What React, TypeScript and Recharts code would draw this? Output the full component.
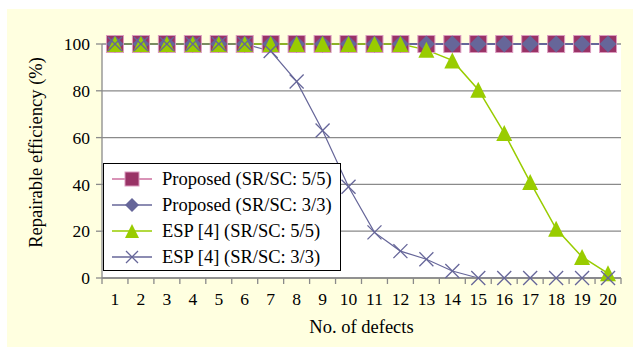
import { LineChart, Line, XAxis, YAxis, CartesianGrid, Label } from 'recharts';

const defects = [1, 2, 3, 4, 5, 6, 7, 8, 9, 10, 11, 12, 13, 14, 15, 16, 17, 18, 19, 20];
const proposed55 = [100, 100, 100, 100, 100, 100, 100, 100, 100, 100, 100, 100, 100, 100, 100, 100, 100, 100, 100, 100];
const proposed33 = [100, 100, 100, 100, 100, 100, 100, 100, 100, 100, 100, 100, 100, 100, 100, 100, 100, 100, 100, 100];
const esp55 = [100, 100, 100, 100, 100, 100, 100, 100, 100, 100, 100, 100, 97.5, 93, 80.5, 62, 41, 21, 9, 2];
const esp33 = [100, 100, 100, 100, 100, 100, 97, 84, 63, 39, 19.5, 11.5, 8, 3, 0, 0, 0, 0, 0, 0];
const yTicks = [0, 20, 40, 60, 80, 100];

const seriesNames = [
  'Proposed (SR/SC: 5/5)',
  'Proposed (SR/SC: 3/3)',
  'ESP [4] (SR/SC: 5/5)',
  'ESP [4] (SR/SC: 3/3)',
];

const data = defects.map((d, i) => ({
  defects: d,
  p55: proposed55[i],
  p33: proposed33[i],
  e55: esp55[i],
  e33: esp33[i],
}));

const FONT = 'Liberation Serif';
const W = 626;
const H = 338;
const MARGIN = { top: 35, right: 12, left: 0, bottom: 9 };
const Y_W = 95;
const X_H = 60;
const PLOT_W = W - MARGIN.left - MARGIN.right - Y_W;
const PLOT_H = H - MARGIN.top - MARGIN.bottom - X_H;
const BAND = PLOT_W / defects.length;
const GRID = '#8a8a8a';

const MAGENTA = '#993366';
const PINK = '#cc6f9f';
const BLUE = '#666699';
const GREEN = '#99cc00';

function Square({ cx, cy, s }: any) {
  return <rect x={cx - s / 2} y={cy - s / 2} width={s} height={s} fill={MAGENTA} stroke="#dc9cc0" strokeWidth={1} />;
}
function Diamond({ cx, cy, s }: any) {
  const h = s / 2;
  return <polygon points={`${cx},${cy - h} ${cx + h},${cy} ${cx},${cy + h} ${cx - h},${cy}`} fill={BLUE} />;
}
function Triangle({ cx, cy, s }: any) {
  const h = s / 2;
  return <polygon points={`${cx},${cy - h} ${cx + h},${cy + h} ${cx - h},${cy + h}`} fill={GREEN} />;
}
function Cross({ cx, cy, s }: any) {
  const h = s / 2;
  return (
    <g stroke={BLUE} strokeWidth={1.3}>
      <line x1={cx - h} y1={cy - h} x2={cx + h} y2={cy + h} />
      <line x1={cx - h} y1={cy + h} x2={cx + h} y2={cy - h} />
    </g>
  );
}

const markers = [Square, Diamond, Triangle, Cross];
const lineColors = [PINK, BLUE, GREEN, BLUE];

function XTick(props: any) {
  const { x, payload, index } = props;
  const axisY = MARGIN.top + PLOT_H;
  return (
    <g>
      <line x1={x - BAND / 2} x2={x - BAND / 2} y1={axisY} y2={axisY + 6} stroke={GRID} strokeWidth={1.3} />
      {index === defects.length - 1 && (
        <line x1={x + BAND / 2} x2={x + BAND / 2} y1={axisY} y2={axisY + 6} stroke={GRID} strokeWidth={1.3} />
      )}
      <text x={x} y={axisY + 27} textAnchor="middle" fontFamily={FONT} fontSize={17.5} fill="#000">
        {payload.value}
      </text>
    </g>
  );
}

function ChartLegend() {
  return (
    <div
      style={{
        position: 'absolute',
        left: 96,
        top: 154,
        width: 238,
        height: 108,
        background: '#fff',
        border: '1.5px solid #000',
        boxSizing: 'border-box',
        fontFamily: FONT,
        fontSize: 18.5,
        color: '#000',
      }}
    >
      {seriesNames.map((name, i) => {
        const M = markers[i];
        return (
          <div key={name} style={{ position: 'absolute', left: 0, top: 3 + i * 26, height: 24, display: 'flex', alignItems: 'center' }}>
            <svg width={50} height={24} style={{ marginLeft: 8 }}>
              <line x1={0} x2={40} y1={12} y2={12} stroke={lineColors[i]} strokeWidth={1.5} />
              <M cx={20} cy={12} s={i === 3 ? 12 : 14} />
            </svg>
            <span style={{ whiteSpace: 'nowrap' }}>{name}</span>
          </div>
        );
      })}
    </div>
  );
}

export default function App() {
  return (
    <div style={{ position: 'absolute', left: 7, top: 9, width: W, height: H, background: '#ffffe0' }}>
      <LineChart width={W} height={H} data={data} margin={MARGIN}>
        <CartesianGrid vertical={false} stroke={GRID} strokeWidth={1.3} fill="#fff" />
        <XAxis
          dataKey="defects"
          type="category"
          scale="band"
          height={X_H}
          tick={<XTick />}
          tickLine={false}
          axisLine={{ stroke: GRID, strokeWidth: 1.3 }}
          interval={0}
        >
          <Label
            content={() => (
              <text x={MARGIN.left + Y_W + PLOT_W / 2} y={MARGIN.top + PLOT_H + 55} textAnchor="middle" fontFamily={FONT} fontSize={18.5} fill="#000">
                No. of defects
              </text>
            )}
          />
        </XAxis>
        <YAxis
          width={Y_W}
          domain={[0, 100]}
          ticks={yTicks}
          interval={0}
          tickSize={6}
          tickMargin={6}
          tick={{ fontFamily: FONT, fontSize: 17.5, fill: '#000' }}
          tickLine={{ stroke: GRID, strokeWidth: 1.3 }}
          axisLine={{ stroke: GRID, strokeWidth: 1.3 }}
        >
          <Label
            content={() => (
              <text
                transform="translate(35, 143.5) rotate(-90)"
                textAnchor="middle"
                fontFamily={FONT}
                fontSize={18.5}
                fill="#000"
              >
                Repairable efficiency (%)
              </text>
            )}
          />
        </YAxis>
        <YAxis yAxisId="frame" orientation="right" width={0} domain={[0, 100]} tick={false} tickLine={false} axisLine={{ stroke: '#000', strokeWidth: 1.5 }} />
        <Line
          dataKey="p55"
          name={seriesNames[0]}
          stroke={PINK}
          strokeWidth={2}
          isAnimationActive={false}
          dot={(p: any) => <Square key={`a${p.index}`} cx={p.cx} cy={p.cy} s={17} />}
        />
        <Line
          dataKey="p33"
          name={seriesNames[1]}
          stroke={BLUE}
          strokeWidth={2}
          isAnimationActive={false}
          dot={(p: any) => <Diamond key={`b${p.index}`} cx={p.cx} cy={p.cy} s={17} />}
        />
        <Line
          dataKey="e55"
          name={seriesNames[2]}
          stroke={GREEN}
          strokeWidth={1.5}
          isAnimationActive={false}
          dot={(p: any) => <Triangle key={`c${p.index}`} cx={p.cx} cy={p.cy} s={16} />}
        />
        <Line
          dataKey="e33"
          name={seriesNames[3]}
          stroke={BLUE}
          strokeWidth={1.2}
          isAnimationActive={false}
          dot={(p: any) => <Cross key={`d${p.index}`} cx={p.cx} cy={p.cy} s={14} />}
        />
      </LineChart>
      <ChartLegend />
    </div>
  );
}
